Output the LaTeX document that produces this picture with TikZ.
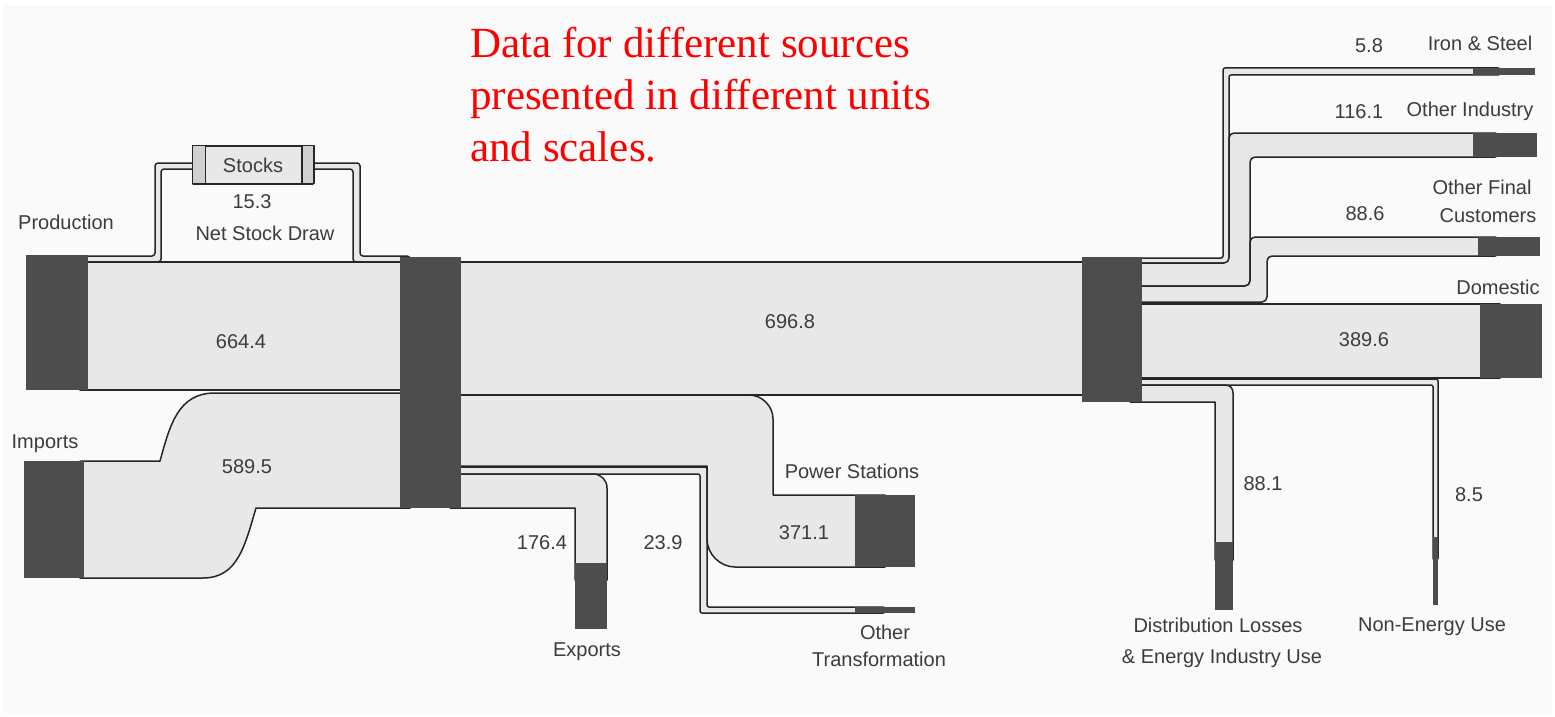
\documentclass[tikz,border=0pt]{standalone}
\usepackage{fontspec}
\setmainfont{Liberation Sans}
\newfontfamily\notefont{Liberation Serif}
\definecolor{hubgray}{HTML}{4D4D4D}
\definecolor{flowgray}{HTML}{E8E8E8}
\definecolor{capgray}{HTML}{D0D0D0}
\definecolor{labgray}{HTML}{3C3C3C}
\definecolor{paper}{HTML}{FAFAFA}
\begin{document}
\begin{tikzpicture}[x=1pt, y=-1pt]
    \tikzset{flow/.style={fill=flowgray, draw=black!85, line width=1.5pt, line join=round}}
    \tikzset{sink/.style={fill=hubgray, draw=none, inner sep=0pt, outer sep=0pt}}
    \tikzset{lab/.style={text=labgray, font=\fontsize{20}{23}\selectfont, inner sep=0pt}}
    \tikzset{note/.style={text=red, font=\notefont\fontsize{43}{51}\selectfont, anchor=base west, inner sep=0pt}}

    \useasboundingbox (0,0) rectangle (1555,717);
    \fill[white] (0,0) rectangle (1555,717);
    \fill[paper] (3,5) rectangle (1552,714);

    % left side
    \draw[flow, rounded corners=3pt] (80,256) -- (155,256) -- (155,163) -- (200,163) -- (200,169) -- (161,169) -- (161,262) -- (80,262) -- cycle;
    \draw[flow, rounded corners=3pt] (306,163) -- (360,163) -- (360,256) -- (410,256) -- (410,262) -- (353,262) -- (353,169) -- (306,169) -- cycle;
    \draw[flow] (80,262) rectangle (410,390);
    \draw[flow] (80,461) -- (160,461) .. controls (170,425) and (178,393) .. (215,393) -- (410,393)
        -- (410,508) -- (256,508) .. controls (245,545) and (238,578) .. (203,578) -- (80,578) -- cycle;

    \node[flow, minimum width=120pt, minimum height=38pt, inner sep=0pt] (stocks) at (253,165) {};
    \draw[flow, fill=capgray] (stocks.north west) rectangle ++(13,38);
    \draw[flow, fill=capgray] (stocks.north east) rectangle ++(-12,38);

    % middle
    \draw[flow] (450,262) rectangle (1090,395);
    \draw[flow, rounded corners=2pt] (450,467) -- (707,467) -- (707,607) -- (885,607) -- (885,613) -- (700,613) -- (700,474) -- (450,474) -- cycle;
    \draw[flow] (450,474) -- (593,474) .. controls (601,474) and (607,480) .. (607,488) -- (607,580)
        -- (575,580) -- (575,508) -- (450,508) -- cycle;
    \draw[flow] (450,395) -- (749,395) .. controls (762,395) and (773,406) .. (773,419) -- (773,495) -- (885,495)
        -- (885,567) -- (735,567) .. controls (720,567) and (707,554) .. (707,539) -- (707,466) -- (450,466) -- cycle;

    % right side
    \draw[flow, rounded corners=2pt] (1130,258) -- (1223,258) -- (1223,68) -- (1500,68) -- (1500,75) -- (1229,75) -- (1229,263) -- (1130,263) -- cycle;
    \draw[flow, rounded corners=5pt] (1130,263) -- (1229,263) -- (1229,133) -- (1500,133) -- (1500,157) -- (1250,157) -- (1250,286) -- (1130,286) -- cycle;
    \draw[flow, rounded corners=5pt] (1130,286) -- (1250,286) -- (1250,237) -- (1500,237) -- (1500,256) -- (1267,256) -- (1267,302) -- (1130,302) -- cycle;
    \draw[flow] (1130,304) rectangle (1500,378);
    \draw[flow, rounded corners=2pt] (1130,379) -- (1438,379) -- (1438,560) -- (1433,560) -- (1433,385) -- (1130,385) -- cycle;
    \draw[flow] (1130,385) -- (1225,385) .. controls (1230,385) and (1233,388) .. (1233,393) -- (1233,560)
        -- (1215,560) -- (1215,402) -- (1130,402) -- cycle;

    % sinks and hubs
    \node[sink, minimum width=62pt, minimum height=135pt] (prod) at (57,322.5) {};
    \node[sink, minimum width=60pt, minimum height=117pt] (imp) at (54,519.5) {};
    \node[sink, minimum width=61pt, minimum height=251pt] (hubA) at (430.5,382.5) {};
    \node[sink, minimum width=60pt, minimum height=145pt] (hubB) at (1112,329.5) {};
    \node[sink, minimum width=60pt, minimum height=72pt] (pwr) at (885,531) {};
    \node[sink, minimum width=60pt, minimum height=6pt] (othtr) at (885,610) {};
    \node[sink, minimum width=32pt, minimum height=66pt] (exp) at (591,596) {};
    \node[sink, minimum width=62pt, minimum height=7pt] (iron) at (1504,71.5) {};
    \node[sink, minimum width=64pt, minimum height=24pt] (oind) at (1505,145) {};
    \node[sink, minimum width=62pt, minimum height=19pt] (ofin) at (1509,246.5) {};
    \node[sink, minimum width=62pt, minimum height=74pt] (dom) at (1511,341) {};
    \node[sink, minimum width=18pt, minimum height=68pt] (dist) at (1224,576) {};
    \node[sink, minimum width=5pt, minimum height=68pt] (nonen) at (1435.5,571) {};

    % labels
    \node[lab] (lprod) at (66,222) {Production};
    \node[lab] (limp) at (45,444) {Imports};
    \node[lab] at (stocks) {Stocks};
    \node[lab] (vstock) at (252,202) {15.3};
    \node[lab] (lstock) at (265,233) {Net Stock Draw};
    \node[lab] (vprod) at (241,342) {664.4};
    \node[lab] (vimp) at (247,467) {589.5};
    \node[lab] (vmain) at (790,322) {696.8};
    \node[lab] (lpwr) at (852,471) {Power Stations};
    \node[lab] (vpwr) at (804,533) {371.1};
    \node[lab] (vexp) at (542,543) {176.4};
    \node[lab] (vothtr) at (663,543) {23.9};
    \node[lab] (lexp) at (587,652) {Exports};
    \node[lab] (lothtr) at (885,632) {Other};
    \node[lab] (lothtrb) at (879,659) {Transformation};
    \node[lab] (viron) at (1369,46) {5.8};
    \node[lab] (liron) at (1480,43) {Iron \& Steel};
    \node[lab] (voind) at (1359,112) {116.1};
    \node[lab] (loind) at (1470,111) {Other Industry};
    \node[lab] (lofin) at (1482,187) {Other Final};
    \node[lab] (lofinb) at (1488,216) {Customers};
    \node[lab] (vofin) at (1365,214) {88.6};
    \node[lab] (ldom) at (1498,287) {Domestic};
    \node[lab] (vdom) at (1364,340) {389.6};
    \node[lab] (vdist) at (1263,484) {88.1};
    \node[lab] (vnonen) at (1469,495) {8.5};
    \node[lab] (ldist) at (1218,625) {Distribution Losses};
    \node[lab] (ldistb) at (1222,658) {\& Energy Industry Use};
    \node[lab] (lnonen) at (1432,627) {Non-Energy Use};

    \node[note] (red1) at (470,58) {Data for different sources};
    \node[note] (red2) at (470,110) {presented in different units};
    \node[note] (red3) at (470,161) {and scales.};
\end{tikzpicture}
\end{document}
